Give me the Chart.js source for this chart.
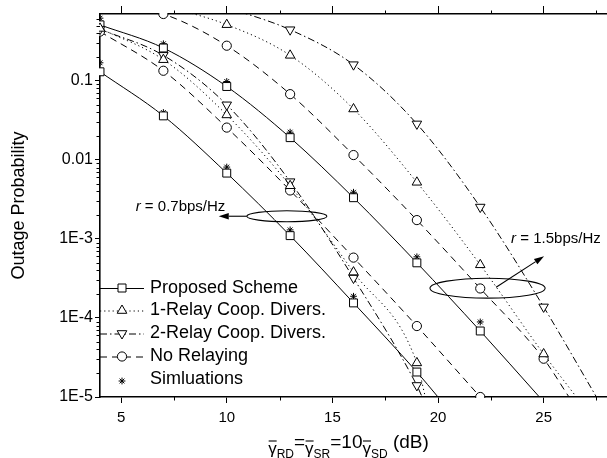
<!DOCTYPE html>
<html>
<head>
<meta charset="utf-8">
<script src="https://cdn.jsdelivr.net/npm/chart.js"></script>
<style>
  html, body { margin: 0; padding: 0; background: #fff; overflow: hidden; }
  #wrap { width: 607px; height: 458px; position: relative; }
</style>
</head>
<body>
<div id="wrap"><canvas id="outageChart"></canvas></div>
<script>
// marker positions (dB) where the analytic curves carry symbols
const markerX = [4, 7, 10, 13, 16, 19, 22, 25];

// r = 0.7 bps/Hz
const prop07X = [4, 7, 10, 13, 16, 19, 20];
const prop07Y = [0.13, 0.036, 0.0068, 0.0011, 1.55e-4, 2.07e-5, 1e-5];
const relay1_07X = [4, 7, 10, 13, 16, 19, 19.4];
const relay1_07Y = [0.46, 0.185, 0.037, 0.0047, 3.8e-4, 2.7e-5, 1e-5];
const relay2_07X = [4, 7, 10, 13, 16, 19, 19.25];
const relay2_07Y = [0.45, 0.21, 0.0497, 0.0053, 3.2e-4, 1.4e-5, 1e-5];
const noRelay07X = [4, 7, 10, 13, 16, 19, 22];
const noRelay07Y = [0.42, 0.134, 0.0256, 0.0041, 5.8e-4, 7.9e-5, 1e-5];
const sim07X = [4, 7, 10, 13, 16];
const sim07Y = [0.169, 0.0397, 0.0081, 0.0013, 1.88e-4];

// r = 1.5 bps/Hz
const prop15X = [4, 7, 10, 13, 16, 19, 22, 24.8];
const prop15Y = [0.51, 0.26, 0.0847, 0.0191, 0.00332, 4.98e-4, 6.84e-5, 1e-5];
const relay1_15X = [7, 10, 13, 16, 19, 22, 25, 26.55];
const relay1_15Y = [0.9, 0.513, 0.21, 0.044, 0.0052, 4.7e-4, 3.5e-5, 1e-5];
const relay2_15X = [10, 13, 16, 19, 22, 25, 27.5];
const relay2_15Y = [0.85, 0.443, 0.16, 0.0285, 0.00253, 1.38e-4, 1e-5];
const noRelay15X = [4, 7, 10, 13, 16, 19, 22, 25, 26.2];
const noRelay15Y = [1.0, 0.7, 0.278, 0.0678, 0.0115, 0.00173, 2.36e-4, 3.05e-5, 1e-5];
const sim15X = [4, 7, 10, 13, 16, 19, 22];
const sim15Y = [0.62, 0.294, 0.098, 0.0224, 0.00389, 5.93e-4, 8.9e-5];

// axes
const xMin = 4, xMax = 28;
const yMin = 1e-5, yMax = 0.7;
const xMajorTicks = [5, 10, 15, 20, 25];
const xMinorTicks = [7.5, 12.5, 17.5, 22.5, 27.5];
const yMajorTicks = [1e-5, 1e-4, 1e-3, 0.01, 0.1];
const yTickLabels = ["1E-5", "1E-4", "1E-3", "0.01", "0.1"];

const legendLabels = ["Proposed Scheme", "1-Relay Coop. Divers.", "2-Relay Coop. Divers.", "No Relaying", "Simluations"];

const FONT = "'Liberation Sans', Arial, Helvetica, sans-serif";
const INK = "#000";

function pts(xs, ys) {
  return xs.map((x, i) => ({ x: x, y: ys[i] }));
}

// only put symbols on the 3 dB grid and inside the plot
function markerRadius(r) {
  return (c) => {
    const p = c.raw;
    if (!p) return 0;
    return markerX.includes(p.x) && p.y <= yMax * 1.001 && p.y >= yMin * 0.999 ? r : 0;
  };
}

const styles = {
  prop: { dash: [], pointStyle: "rect", radius: 5.6, rotation: 0 },
  relay1: { dash: [1.2, 3], pointStyle: "triangle", radius: 5.5, rotation: 0 },
  relay2: { dash: [7, 3, 1.5, 3], pointStyle: "triangle", radius: 5.5, rotation: 180 },
  noRelay: { dash: [7, 5], pointStyle: "circle", radius: 4.6, rotation: 0 },
};

function curve(label, xs, ys, st) {
  return {
    label: label,
    data: pts(xs, ys),
    borderColor: INK,
    borderWidth: 1,
    borderDash: st.dash,
    backgroundColor: "#fff",
    pointStyle: st.pointStyle,
    pointRotation: st.rotation,
    pointRadius: markerRadius(st.radius),
    pointBorderWidth: 1,
    pointBorderColor: INK,
    pointBackgroundColor: "#fff",
    cubicInterpolationMode: "monotone",
    fill: false,
    clip: 1,
  };
}

function sims(label, xs, ys) {
  return {
    label: label,
    data: pts(xs, ys),
    showLine: false,
    pointStyle: "star",
    pointRadius: 3.4,
    pointBorderWidth: 1,
    pointBorderColor: INK,
    borderColor: INK,
    clip: 1,
  };
}

// --- drawing helpers for the plugin ---
function drawMarker(ctx, kind, x, y) {
  ctx.save();
  ctx.strokeStyle = INK;
  ctx.fillStyle = "#fff";
  ctx.lineWidth = 1;
  ctx.setLineDash([]);
  ctx.beginPath();
  if (kind === "rect") {
    ctx.rect(x - 4, y - 4, 8, 8);
  } else if (kind === "up") {
    ctx.moveTo(x, y - 5.5);
    ctx.lineTo(x + 4.8, y + 2.8);
    ctx.lineTo(x - 4.8, y + 2.8);
    ctx.closePath();
  } else if (kind === "down") {
    ctx.moveTo(x, y + 5.5);
    ctx.lineTo(x + 4.8, y - 2.8);
    ctx.lineTo(x - 4.8, y - 2.8);
    ctx.closePath();
  } else if (kind === "circle") {
    ctx.arc(x, y, 4.6, 0, Math.PI * 2);
  }
  if (kind !== "star") {
    ctx.fill();
    ctx.stroke();
  } else {
    ctx.beginPath();
    for (let k = 0; k < 4; k++) {
      const a = (k * Math.PI) / 4;
      ctx.moveTo(x - 3.4 * Math.cos(a), y - 3.4 * Math.sin(a));
      ctx.lineTo(x + 3.4 * Math.cos(a), y + 3.4 * Math.sin(a));
    }
    ctx.stroke();
  }
  ctx.restore();
}

function arrow(ctx, x1, y1, x2, y2) {
  const ang = Math.atan2(y2 - y1, x2 - x1);
  const hl = 10, hw = 3.2;
  ctx.beginPath();
  ctx.moveTo(x1, y1);
  ctx.lineTo(x2 - hl * Math.cos(ang), y2 - hl * Math.sin(ang));
  ctx.stroke();
  ctx.beginPath();
  ctx.moveTo(x2, y2);
  ctx.lineTo(x2 - hl * Math.cos(ang) - hw * Math.sin(ang), y2 - hl * Math.sin(ang) + hw * Math.cos(ang));
  ctx.lineTo(x2 - hl * Math.cos(ang) + hw * Math.sin(ang), y2 - hl * Math.sin(ang) - hw * Math.cos(ang));
  ctx.closePath();
  ctx.fill();
}

function ellipseData(ctx, xs, ys, x0, x1, y0, y1) {
  const l = xs.getPixelForValue(x0), r = xs.getPixelForValue(x1);
  const t = ys.getPixelForValue(y0), b = ys.getPixelForValue(y1);
  ctx.beginPath();
  ctx.ellipse((l + r) / 2, (t + b) / 2, (r - l) / 2, Math.abs(b - t) / 2, 0, 0, Math.PI * 2);
  ctx.stroke();
  return { l: l, r: r, cy: (t + b) / 2 };
}

function rateLabel(ctx, x, y, rate) {
  ctx.textBaseline = "middle";
  ctx.textAlign = "left";
  ctx.font = "italic 15px " + FONT;
  ctx.fillText("r", x, y);
  const w = ctx.measureText("r").width;
  ctx.font = "15px " + FONT;
  ctx.fillText(" = " + rate + "bps/Hz", x + w, y);
}

const decorations = {
  id: "decorations",
  afterDraw(chart) {
    const ctx = chart.ctx;
    const xs = chart.scales.x, ys = chart.scales.y;
    const area = chart.chartArea;
    ctx.save();
    ctx.strokeStyle = INK;
    ctx.fillStyle = INK;
    ctx.lineWidth = 1;

    // minor ticks
    ctx.beginPath();
    xMinorTicks.forEach((v) => {
      const px = Math.round(xs.getPixelForValue(v)) + 0.5;
      ctx.moveTo(px, area.bottom);
      ctx.lineTo(px, area.bottom + 3.5);
      ctx.moveTo(px, area.top);
      ctx.lineTo(px, area.top - 3.5);
    });
    for (let d = -5; d <= -1; d++) {
      for (let m = 2; m <= 9; m++) {
        const v = m * Math.pow(10, d);
        if (v > yMax) continue;
        const py = Math.round(ys.getPixelForValue(v)) + 0.5;
        ctx.moveTo(area.left, py);
        ctx.lineTo(area.left - 3.5, py);
      }
    }
    ctx.stroke();

    // rate annotations
    ctx.lineWidth = 1.1;
    const e1 = ellipseData(ctx, xs, ys, 10.95, 14.74, 0.00227, 0.00165);
    arrow(ctx, e1.l, e1.cy, xs.getPixelForValue(9.62), e1.cy);
    ellipseData(ctx, xs, ys, 19.62, 25.07, 3.18e-4, 1.78e-4);
    arrow(ctx, xs.getPixelForValue(22.75), ys.getPixelForValue(2.45e-4),
      xs.getPixelForValue(25.02), ys.getPixelForValue(6.05e-4));
    rateLabel(ctx, xs.getPixelForValue(5.69), ys.getPixelForValue(0.00253), "0.7");
    rateLabel(ctx, xs.getPixelForValue(23.46), ys.getPixelForValue(0.001), "1.5");

    // legend
    const lx = area.left, mx = area.left + 22, tx = area.left + 50;
    const rows = [288, 310.5, 333.5, 356.5, 381];
    const kinds = ["rect", "up", "down", "circle", "star"];
    const dashes = [styles.prop.dash, styles.relay1.dash, styles.relay2.dash, styles.noRelay.dash, null];
    rows.forEach((ry, i) => {
      if (dashes[i]) {
        ctx.save();
        ctx.setLineDash(dashes[i]);
        ctx.lineWidth = 1;
        ctx.beginPath();
        ctx.moveTo(lx, ry + 0.5);
        ctx.lineTo(lx + 44, ry + 0.5);
        ctx.stroke();
        ctx.restore();
      }
      drawMarker(ctx, kinds[i], mx, ry);
      ctx.fillStyle = INK;
      ctx.font = "18px " + FONT;
      ctx.textBaseline = "middle";
      ctx.textAlign = "left";
      ctx.fillText(legendLabels[i], tx, i === 4 ? ry - 2 : ry);
    });

    // x-axis title: overlined gammas with subscripts
    const parts = [
      { t: "\u03b3", bar: true }, { t: "RD", sub: true }, { t: "=" },
      { t: "\u03b3", bar: true }, { t: "SR", sub: true }, { t: "=10" },
      { t: "\u03b3", bar: true }, { t: "SD", sub: true }, { t: " (dB)" },
    ];
    const base = 448;
    const fontFor = (p) => (p.sub ? "12px " : p.bar ? "17px " : "19px ") + FONT;
    let total = 0;
    parts.forEach((p) => { ctx.font = fontFor(p); p.w = ctx.measureText(p.t).width; total += p.w; });
    let cx = (area.left + area.right) / 2 - 5 - total / 2;
    ctx.textBaseline = "alphabetic";
    ctx.textAlign = "left";
    parts.forEach((p) => {
      ctx.font = fontFor(p);
      const by = p.sub ? base + 10 : p.bar ? base + 6 : base;
      ctx.fillText(p.t, cx, by);
      if (p.bar) {
        ctx.beginPath();
        ctx.moveTo(cx + 0.5, base - 7);
        ctx.lineTo(cx + p.w, base - 7);
        ctx.stroke();
      }
      cx += p.w;
    });
    ctx.restore();
  },
};

const axisLine = { color: INK, width: 1.6 };

new Chart(document.getElementById("outageChart"), {
  type: "line",
  data: {
    datasets: [
      curve("Proposed Scheme r=0.7", prop07X, prop07Y, styles.prop),
      curve("1-Relay r=0.7", relay1_07X, relay1_07Y, styles.relay1),
      curve("2-Relay r=0.7", relay2_07X, relay2_07Y, styles.relay2),
      curve("No Relaying r=0.7", noRelay07X, noRelay07Y, styles.noRelay),
      curve("Proposed Scheme r=1.5", prop15X, prop15Y, styles.prop),
      curve("1-Relay r=1.5", relay1_15X, relay1_15Y, styles.relay1),
      curve("2-Relay r=1.5", relay2_15X, relay2_15Y, styles.relay2),
      curve("No Relaying r=1.5", noRelay15X, noRelay15Y, styles.noRelay),
      sims("Simulations r=0.7", sim07X, sim07Y),
      sims("Simulations r=1.5", sim15X, sim15Y),
    ],
  },
  options: {
    responsive: true,
    maintainAspectRatio: false,
    animation: false,
    layout: { autoPadding: false, padding: 0 },
    plugins: {
      legend: { display: false },
      tooltip: { enabled: false },
    },
    scales: {
      x: {
        type: "linear",
        position: "bottom",
        min: xMin,
        max: xMax,
        afterBuildTicks: (s) => { s.ticks = xMajorTicks.map((v) => ({ value: v })); },
        afterFit: (s) => { s.height = 61; },
        grid: { drawOnChartArea: false, tickLength: 6, color: INK, lineWidth: 1 },
        border: axisLine,
        ticks: { color: INK, font: { family: FONT, size: 15 }, padding: 6, maxRotation: 0 },
      },
      x2: {
        type: "linear",
        axis: "x",
        position: "top",
        min: xMin,
        max: xMax,
        afterBuildTicks: (s) => { s.ticks = xMajorTicks.map((v) => ({ value: v })); },
        afterFit: (s) => { s.height = 14; },
        grid: { drawOnChartArea: false, tickLength: 8, color: INK, lineWidth: 1 },
        border: axisLine,
        ticks: { display: false },
      },
      y: {
        type: "logarithmic",
        min: yMin,
        max: yMax,
        afterBuildTicks: (s) => { s.ticks = yMajorTicks.map((v) => ({ value: v })); },
        afterFit: (s) => { s.width = 100; },
        grid: { drawOnChartArea: false, tickLength: 5, color: INK, lineWidth: 1 },
        border: axisLine,
        ticks: {
          color: INK,
          font: { family: FONT, size: 16 },
          padding: 2,
          callback: (v) => {
            const i = yMajorTicks.findIndex((t) => Math.abs(t - v) / t < 1e-6);
            return i >= 0 ? yTickLabels[i] : "";
          },
        },
        title: {
          display: true,
          text: "Outage Probability",
          color: INK,
          font: { family: FONT, size: 18 },
          padding: { top: 8, bottom: 0 },
        },
      },
    },
  },
  plugins: [decorations],
});
</script>
</body>
</html>
